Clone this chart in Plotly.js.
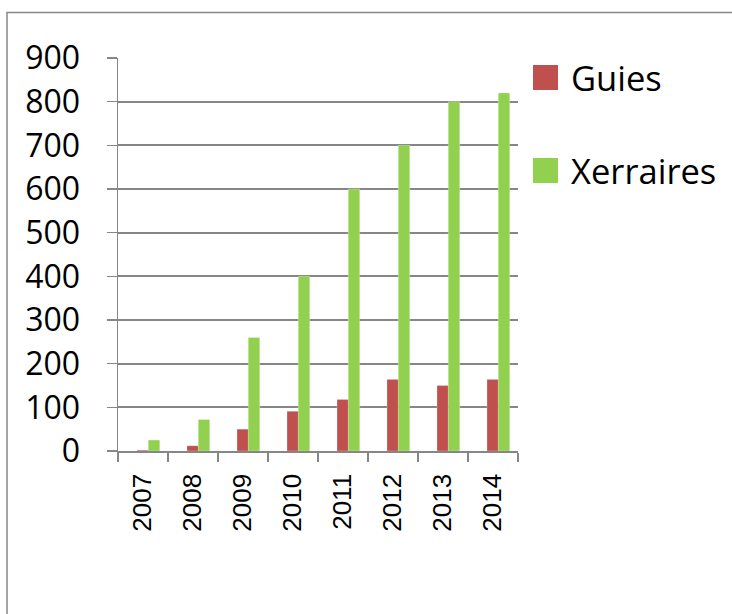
<!DOCTYPE html>
<html>
<head>
<meta charset="utf-8">
<script src="https://cdn.plot.ly/plotly-3.0.1.min.js"></script>
<style>
html,body{margin:0;padding:0;background:#fff;}
#chart{width:732px;height:614px;}
</style>
</head>
<body>
<div id="chart"></div>
<script>
const years = ['2007','2008','2009','2010','2011','2012','2013','2014'];
const guies = [2, 12, 50, 91, 118, 164, 150, 164];
const xerraires = [25, 72, 260, 400, 600, 700, 800, 820];
const seriesNames = ['Guies', 'Xerraires'];
const seriesColors = ['#C0504D', '#92D050'];
const yTicks = [0, 100, 200, 300, 400, 500, 600, 700, 800, 900];

const L = 118, R = 214, T = 58, B = 163;
const W = 732, H = 614;
const pw = W - L - R, ph = H - T - B;
const px = v => (v - L) / pw;
const py = v => (H - B - v) / ph;

const traces = [
  {type:'bar', x: years, y: guies, name: seriesNames[0],
   marker:{color: seriesColors[0], line:{color:'rgba(255,255,255,0.5)', width:0.5}},
   width: 0.23, offset: -0.12, hoverinfo:'x+y+name'},
  {type:'bar', x: years, y: xerraires, name: seriesNames[1],
   marker:{color: seriesColors[1], line:{color:'rgba(255,255,255,0.5)', width:0.5}},
   width: 0.23, offset: 0.105, hoverinfo:'x+y+name'}
];

const legendY = [[65, 90], [158, 183]];
const shapes = [
  {type:'rect', xref:'paper', yref:'paper', x0: px(7), x1: px(760), y0: py(640), y1: py(12.5),
   line:{color:'#868686', width:1.5}, fillcolor:'rgba(0,0,0,0)', layer:'below'}
];
const annotations = [];
seriesNames.forEach((n, i) => {
  shapes.push({type:'rect', xref:'paper', yref:'paper', x0: px(533), x1: px(558),
    y0: py(legendY[i][1]), y1: py(legendY[i][0]), line:{width:0}, fillcolor: seriesColors[i]});
  annotations.push({xref:'paper', yref:'paper', x: px(569), y: py((legendY[i][0]+legendY[i][1])/2 - 0.5),
    xanchor:'left', yanchor:'middle', text: n, showarrow:false,
    font:{family:'"Open Sans", sans-serif', size:34.5, color:'#000'}});
});

const layout = {
  width: W, height: H,
  margin:{l:L, r:R, t:T, b:B, pad:0},
  paper_bgcolor:'#fff', plot_bgcolor:'#fff',
  showlegend:false,
  bargap:0.54,
  xaxis:{type:'category', tickson:'boundaries', ticks:'outside', ticklen:9, tickwidth:1.5, tickcolor:'#868686',
    showline:true, linecolor:'#868686', linewidth:1.5, showgrid:false, tickangle:-90,
    tickfont:{family:'"Liberation Sans", Arial, sans-serif', size:26, color:'#000'},
    ticklabelstandoff: 11, fixedrange:true},
  yaxis:{range:[0, 900], tickvals: yTicks, ticktext: yTicks.map(String), ticks:'outside', ticklen:10,
    tickwidth:1.5, tickcolor:'#868686', showline:true, linecolor:'#868686', linewidth:1.5,
    showgrid:true, gridcolor:'#868686', gridwidth:1.8, zeroline:false,
    tickfont:{family:'"Open Sans", sans-serif', size:32, color:'#000'},
    ticklabelstandoff: 20, fixedrange:true},
  shapes: shapes,
  annotations: annotations
};

Plotly.newPlot('chart', traces, layout, {displayModeBar:false, staticPlot:true});
</script>
</body>
</html>
